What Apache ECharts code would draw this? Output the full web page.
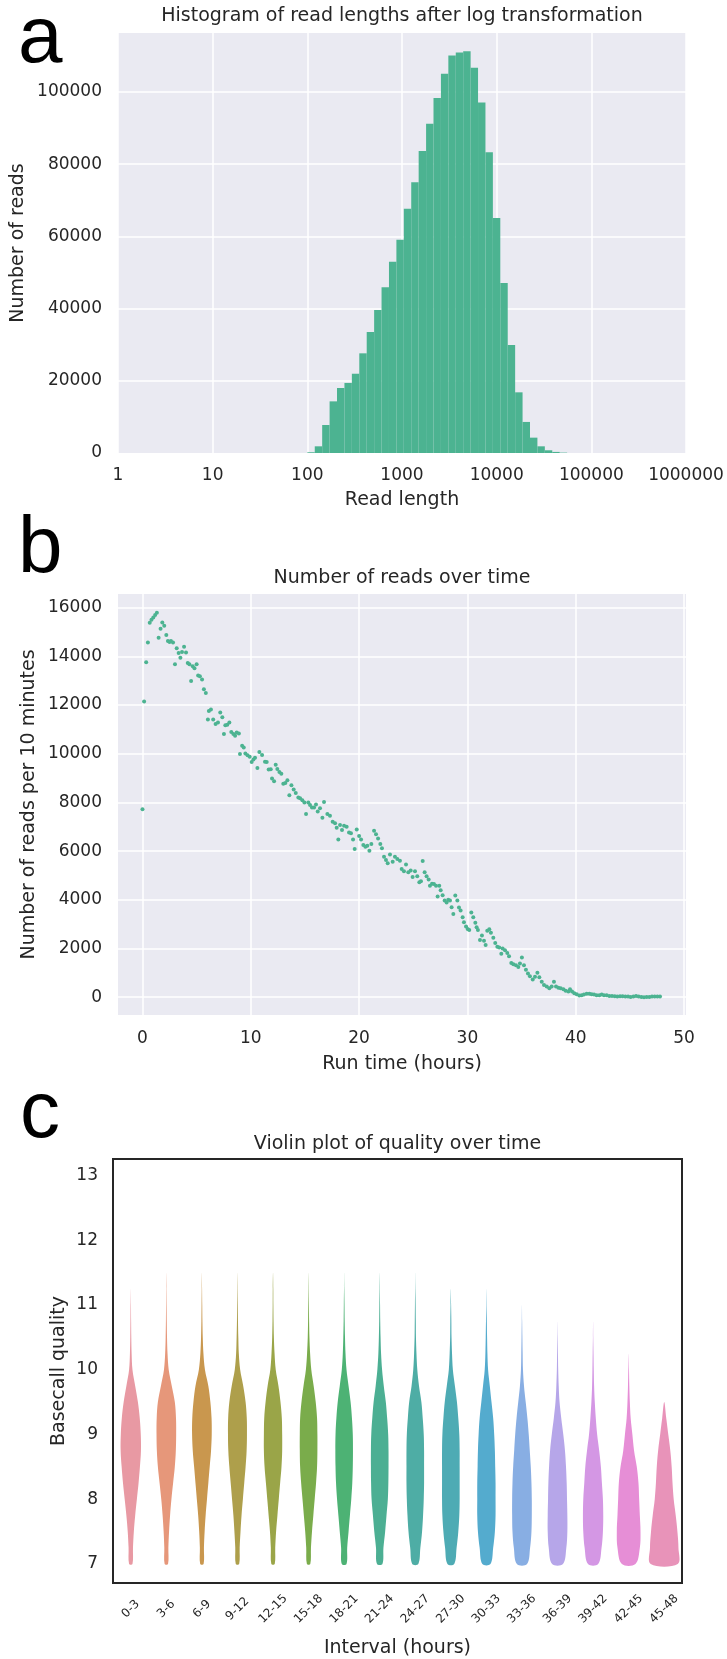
<!DOCTYPE html>
<html>
<head>
<meta charset="utf-8">
<title>Read length, reads over time, quality over time</title>
<script src="https://cdn.jsdelivr.net/npm/echarts@6/dist/echarts.min.js"></script>
<style>
  body { margin: 0; background: #fff; }
  #main { width: 727px; height: 1659px; }
</style>
</head>
<body>
<div id="main"></div>
<script>
// ---- panel a: histogram of log10(read length) ----
var logBinStart = 2.0;      // first bin edge, log10
var logBinWidth = 0.0784;   // bin width, log10
var readCounts = [200, 1850, 7750, 14300, 18000, 19400, 21950, 27600, 33500, 39600,
    45900, 52950, 59050, 67600, 75000, 83600, 91200, 98300, 105000, 110050,
    110900, 111250, 106700, 97050, 83300, 65100, 47050, 29900, 16800, 8600,
    4250, 1850, 750, 300, 100];
var lengthTicks = ['1', '10', '100', '1000', '10000', '100000', '1000000'];

// ---- panel b: reads per 10 minutes ----
var runHours = [0, 0.15, 0.34, 0.5, 0.67, 0.83, 1.0, 1.17, 1.33, 1.49, 1.67, 1.83, 2.01, 2.2, 2.35, 2.5, 2.63, 2.82,
    3.0, 3.16, 3.34, 3.5, 3.65, 3.84, 4.02, 4.18, 4.33, 4.49, 4.64, 4.8, 5.0, 5.14, 5.3, 5.5, 5.67, 5.85,
    6.04, 6.13, 6.32, 6.53, 6.75, 6.97, 7.18, 7.37, 7.52, 7.65, 7.83, 8.02, 8.2, 8.39, 8.55, 8.7, 8.9,
    9.0, 9.2, 9.35, 9.5, 9.7, 9.9, 10.08, 10.24, 10.39, 10.61, 10.79, 11.04, 11.31, 11.47, 11.65, 11.84,
    11.96, 12.15, 12.3, 12.45, 12.64, 12.82, 13.0, 13.19, 13.38, 13.56, 13.75, 13.96, 14.15, 14.39, 14.55,
    14.76, 14.95, 15.1, 15.31, 15.47, 15.65, 15.84, 16.02, 16.18, 16.39, 16.61, 16.76, 17.07, 17.31, 17.56,
    17.78, 17.93, 18.08, 18.24, 18.42, 18.61, 18.85, 19.07, 19.25, 19.44, 19.59, 19.78, 20.0, 20.18, 20.39,
    20.58, 20.76, 20.95, 21.13, 21.38, 21.56, 21.75, 21.96, 22.11, 22.3, 22.48, 22.64, 22.85, 23.1, 23.31,
    23.53, 23.77, 23.93, 24.14, 24.33, 24.54, 24.76, 24.94, 25.16, 25.37, 25.56, 25.71, 25.87, 26.05, 26.23,
    26.42, 26.54, 26.73, 26.91, 27.1, 27.25, 27.4, 27.53, 27.71, 27.9, 28.08, 28.23, 28.39, 28.54, 28.7,
    28.88, 29.07, 29.22, 29.37, 29.56, 29.68, 29.87, 30.02, 30.17, 30.36, 30.54, 30.73, 30.85, 30.97, 31.16,
    31.34, 31.53, 31.68, 31.83, 32.02, 32.17, 32.39, 32.57, 32.76, 32.94, 33.13, 33.25, 33.47, 33.68, 33.84,
    34.05, 34.24, 34.48, 34.7, 34.85, 35.03, 35.22, 35.4, 35.59, 35.77, 36.03, 36.24, 36.46, 36.64, 36.86,
    37.07, 37.32, 37.56, 37.78, 37.99, 38.18, 38.4, 38.61, 38.86, 39.07, 39.32, 39.47, 39.66, 39.87, 40.09,
    40.33, 40.55, 40.76, 41.01, 41.26, 41.47, 41.69, 41.93, 42.18, 42.4, 42.61, 42.86, 43.1, 43.35, 43.6,
    43.84, 44.09, 44.33, 44.58, 44.83, 45.07, 45.32, 45.57, 45.81, 46.06, 46.3, 46.55, 46.8, 47.04, 47.29,
    47.54, 47.78];
var readsPer10Min = [7720, 12150, 13760, 14570, 15380, 15500, 15600, 15700, 15790, 14760, 15130, 15390, 15260, 14880, 14630, 14590, 14630, 14570,
    13680, 14330, 14140, 13940, 14180, 14390, 14160, 13730, 13680, 12990, 13590, 13510, 13680, 13210, 13180, 13050, 12650, 12490,
    11410, 11760, 11820, 11410, 11220, 11280, 11690, 11500, 10810, 11170, 11190, 11280, 10890, 10810, 10740, 10870, 10830,
    9990, 10330, 10260, 10010, 9940, 9880, 9660, 9760, 9840, 9410, 10070, 9950, 9670, 9660, 9350, 9360,
    8980, 8870, 9550, 9370, 9250, 9180, 8770, 8800, 8910, 8300, 8710, 8530, 8390, 8200, 8170,
    8090, 8000, 7520, 8000, 7890, 7790, 7790, 7910, 7630, 7760, 7370, 8020, 7520, 7450, 7210,
    7140, 6960, 6480, 7070, 6870, 7040, 7000, 6760, 6730, 6480, 6090, 6890, 6620, 6480, 6250,
    6180, 6220, 6020, 6290, 6840, 6690, 6520, 6290, 6120, 5770, 5640, 5500, 5860, 5560, 5770,
    5680, 5610, 5270, 5170, 5450, 5130, 5200, 4940, 5170, 4970, 4720, 4760, 5590, 5130, 4970,
    4830, 4580, 4660, 4650, 4580, 4140, 4580, 4390, 4190, 3970, 3890, 4000, 3970, 3700, 3420,
    4180, 3970, 3680, 3560, 3280, 3080, 2900, 2800, 2760, 3480, 3280, 3060, 2870, 2760, 2350,
    2540, 2320, 2140, 2730, 2790, 2650, 2440, 2230, 2070, 2040, 1790, 2000, 1930, 1820, 1680,
    1410, 1350, 1310, 1240, 1380, 1630, 1310, 1130, 970, 860, 730, 840, 1010, 820, 640,
    500, 440, 370, 440, 640, 440, 390, 370, 330, 270, 230, 330, 230, 160, 120,
    70, 80, 110, 140, 140, 120, 110, 80, 80, 110, 80, 80, 50, 50, 40,
    30, 40, 40, 30, 30, 10, 30, 50, 30, 10, 0, 10, 10, 30, 30,
    30, 30];

// ---- panel c: violin plot of basecall quality ----
var intervals = ['0-3', '3-6', '6-9', '9-12', '12-15', '15-18', '18-21', '21-24',
    '24-27', '27-30', '30-33', '33-36', '36-39', '39-42', '42-45', '45-48'];
var qualityLevels = [7, 7.25, 7.5, 7.75, 8, 8.25, 8.5, 8.75, 9, 9.25, 9.5, 9.75, 10, 10.25, 10.5, 10.75, 11, 11.25, 11.5];
// relative density at each quality level, one row per interval
var violinDensity = [
    [10, 13, 18, 26, 36, 46, 54, 60, 59, 53, 42, 26, 10, 5, 3, 2, 1.2, 0, 0],
    [10, 12, 16, 22, 30, 40, 50, 56, 58, 57, 50, 32, 14, 7, 4, 2.5, 1.5, 0.8, 0],
    [10, 12, 16, 22, 30, 38, 46, 54, 58, 57, 50, 38, 18, 9, 5, 3, 2, 1, 0],
    [10, 13, 18, 24, 32, 40, 48, 54, 56, 55, 48, 34, 16, 8, 5, 3, 2, 1, 0],
    [10, 13, 18, 26, 34, 42, 50, 54, 54, 52, 44, 32, 16, 9, 5, 3, 2, 1.5, 0],
    [10, 14, 20, 28, 36, 44, 50, 52, 52, 50, 42, 30, 16, 9, 5, 3, 2, 1, 0],
    [14, 18, 26, 34, 42, 48, 51, 52, 51, 46, 38, 26, 14, 8, 5, 3, 2, 0.8, 0],
    [16, 22, 32, 40, 48, 51, 52, 52, 50, 44, 36, 24, 14, 8, 5, 3, 2, 1, 0],
    [18, 30, 40, 46, 50, 52, 52, 52, 50, 44, 36, 22, 12, 7, 4, 3, 2, 0.8, 0],
    [20, 34, 44, 50, 52, 52, 52, 52, 50, 44, 36, 24, 12, 7, 4, 3, 1.5, 0, 0],
    [24, 40, 50, 54, 54, 54, 52, 50, 46, 40, 30, 20, 10, 6, 4, 2.5, 1, 0, 0],
    [30, 48, 56, 58, 58, 56, 52, 46, 40, 32, 22, 12, 6, 4, 2.5, 1.2, 0, 0, 0],
    [32, 52, 58, 58, 56, 54, 50, 44, 34, 22, 12, 7, 4, 2.5, 1.2, 0, 0, 0, 0],
    [30, 50, 58, 60, 58, 52, 46, 36, 24, 16, 10, 6, 4, 2.5, 1, 0, 0, 0, 0],
    [40, 66, 70, 66, 62, 58, 48, 32, 22, 12, 7, 4, 2, 0, 0, 0, 0, 0, 0],
    [80, 84, 78, 68, 56, 49, 44, 36, 24, 12, 0, 0, 0, 0, 0, 0, 0, 0, 0]
];
var violinColors = ['#e899a3', '#e6977a', '#c9974e', '#ae9f4b', '#9aa548', '#7aac4b', '#4db274', '#4caf93',
    '#4eada5', '#4eabb4', '#54abce', '#88aee3', '#b6a6e9', '#d497e4', '#e68ed6', '#e893b9'];

var textColor = '#262626';
var baseFont = 'DejaVu Sans';
var histColor = '#4CB391';

var histData = readCounts.map(function (c, i) {
    return [logBinStart + i * logBinWidth, logBinStart + (i + 1) * logBinWidth, c];
});
var scatterData = runHours.map(function (h, i) { return [h, readsPer10Min[i]]; });
var violinData = intervals.map(function (name, i) { return [i, 7]; });

var maxDensity = 0;
violinDensity.forEach(function (row) {
    row.forEach(function (d) { if (d > maxDensity) maxDensity = d; });
});

function renderBin(params, api) {
    var p0 = api.coord([api.value(0), api.value(2)]);
    var p1 = api.coord([api.value(1), 0]);
    return {
        type: 'rect',
        shape: { x: p0[0], y: p0[1], width: p1[0] - p0[0], height: p1[1] - p0[1] },
        style: { fill: histColor }
    };
}

function renderViolin(params, api) {
    var i = api.value(0);
    var dens = violinDensity[i];
    var band = api.size([1, 0])[0];
    var k = 0.8 * band / 2 / maxDensity;
    var left = [], right = [];
    for (var j = 0; j < qualityLevels.length; j++) {
        var p = api.coord([i, qualityLevels[j]]);
        if (dens[j] === 0) {
            left.push([p[0], p[1]]);
            break;
        }
        var hw = dens[j] * k;
        left.push([p[0] - hw, p[1]]);
        right.unshift([p[0] + hw, p[1]]);
    }
    return {
        type: 'polygon',
        shape: { points: left.concat(right), smooth: 0.35 },
        style: { fill: violinColors[i] }
    };
}

function plainNumber(v) {
    return String(v);
}

var tickLabel = { color: textColor, fontFamily: baseFont, fontSize: 17 };
var nameStyle = { color: textColor, fontFamily: baseFont, fontSize: 19 };
var whiteGrid = { show: true, showMinLine: false, showMaxLine: false, lineStyle: { color: '#ffffff', width: 1.5 } };

var chart = echarts.init(document.getElementById('main'), null, { renderer: 'canvas' });
var option = {
    animation: false,
    backgroundColor: '#ffffff',
    graphic: [
        { type: 'text', left: 18, top: 0, style: { text: 'a', font: '80px "Liberation Sans"', fill: '#000' } },
        { type: 'text', left: 18, top: 510, style: { text: 'b', font: '80px "Liberation Sans"', fill: '#000' } },
        { type: 'text', left: 20, top: 1075, style: { text: 'c', font: '80px "Liberation Sans"', fill: '#000' } },
        { type: 'text', x: 402, y: 16, style: { text: 'Histogram of read lengths after log transformation', font: '19px "DejaVu Sans"', fill: textColor, align: 'center', verticalAlign: 'middle' } },
        { type: 'text', x: 402, y: 578, style: { text: 'Number of reads over time', font: '19px "DejaVu Sans"', fill: textColor, align: 'center', verticalAlign: 'middle' } },
        { type: 'text', x: 397.5, y: 1144, style: { text: 'Violin plot of quality over time', font: '19px "DejaVu Sans"', fill: textColor, align: 'center', verticalAlign: 'middle' } }
    ],
    grid: [
        { left: 118, top: 33, width: 568, height: 420, show: true, backgroundColor: '#EAEAF2', borderWidth: 0 },
        { left: 118, top: 594, width: 568, height: 421, show: true, backgroundColor: '#EAEAF2', borderWidth: 0 },
        { left: 113, top: 1159, width: 569, height: 425, show: true, backgroundColor: '#ffffff', borderColor: '#262626', borderWidth: 2 }
    ],
    xAxis: [
        {
            gridIndex: 0, type: 'value', min: 0, max: 6, interval: 1,
            name: 'Read length', nameLocation: 'middle', nameGap: 38, nameMoveOverlap: false, nameTextStyle: nameStyle,
            axisLine: { show: false }, axisTick: { show: false },
            axisLabel: Object.assign({ margin: 14, formatter: function (v) { return lengthTicks[Math.round(v)]; } }, tickLabel),
            splitLine: { show: true, lineStyle: { color: '#ffffff', width: 1.5 } }
        },
        {
            gridIndex: 1, type: 'value', min: -2.26, max: 50.18, splitNumber: 5,
            name: 'Run time (hours)', nameLocation: 'middle', nameGap: 40, nameMoveOverlap: false, nameTextStyle: nameStyle,
            axisLine: { show: false }, axisTick: { show: false },
            axisLabel: Object.assign({ margin: 15, showMinLabel: false, showMaxLabel: false, formatter: plainNumber }, tickLabel),
            splitLine: whiteGrid
        },
        {
            gridIndex: 2, type: 'category', data: intervals,
            name: 'Interval (hours)', nameLocation: 'middle', nameGap: 56, nameMoveOverlap: false, nameTextStyle: nameStyle,
            axisLine: { show: false }, axisTick: { show: false },
            axisLabel: { interval: 0, rotate: 45, align: 'center', verticalAlign: 'middle', margin: 26, color: textColor, fontFamily: baseFont, fontSize: 12 },
            splitLine: { show: false }
        }
    ],
    yAxis: [
        {
            gridIndex: 0, type: 'value', min: 0, max: 116300, interval: 20000,
            name: 'Number of reads', nameLocation: 'middle', nameGap: 90, nameMoveOverlap: false, nameTextStyle: nameStyle,
            axisLine: { show: false }, axisTick: { show: false },
            axisLabel: Object.assign({ margin: 16, showMaxLabel: false, formatter: plainNumber }, tickLabel),
            splitLine: whiteGrid
        },
        {
            gridIndex: 1, type: 'value', min: -730, max: 16560, splitNumber: 8,
            name: 'Number of reads per 10 minutes', nameLocation: 'middle', nameGap: 79, nameMoveOverlap: false, nameTextStyle: nameStyle,
            axisLine: { show: false }, axisTick: { show: false },
            axisLabel: Object.assign({ margin: 16, showMinLabel: false, showMaxLabel: false, formatter: plainNumber }, tickLabel),
            splitLine: whiteGrid
        },
        {
            gridIndex: 2, type: 'value', min: 6.707, max: 13.253, splitNumber: 6,
            name: 'Basecall quality', nameLocation: 'middle', nameGap: 44, nameMoveOverlap: false, nameTextStyle: nameStyle,
            axisLine: { show: false }, axisTick: { show: false },
            axisLabel: Object.assign({ margin: 15, showMinLabel: false, showMaxLabel: false, formatter: plainNumber }, tickLabel),
            splitLine: { show: false }
        }
    ],
    series: [
        {
            type: 'custom', xAxisIndex: 0, yAxisIndex: 0,
            renderItem: renderBin, data: histData,
            encode: { x: [0, 1], y: 2 }, silent: true
        },
        {
            type: 'scatter', xAxisIndex: 1, yAxisIndex: 1,
            data: scatterData, symbolSize: 4,
            itemStyle: { color: histColor, opacity: 1 }, silent: true
        },
        {
            type: 'custom', xAxisIndex: 2, yAxisIndex: 2,
            renderItem: renderViolin, data: violinData,
            encode: { x: 0, y: 1 }, silent: true
        }
    ]
};
chart.setOption(option);

window.onresize = function () {
    chart.resize();
};
</script>
</body>
</html>
